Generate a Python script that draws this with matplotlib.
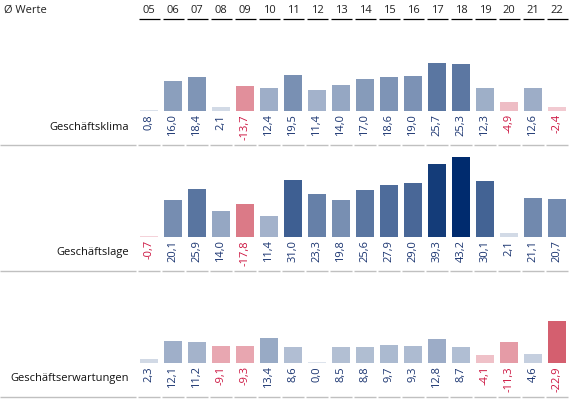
import numpy as np
import matplotlib
matplotlib.use('Agg')
import matplotlib.pyplot as plt
from matplotlib.colors import to_rgb

# === Data ===
years = ['05', '06', '07', '08', '09', '10', '11', '12', '13', '14', '15', '16', '17', '18', '19', '20', '21', '22']
rows = ['Geschäftsklima', 'Geschäftslage', 'Geschäftserwartungen']
klima = [0.8, 16.0, 18.4, 2.1, -13.7, 12.4, 19.5, 11.4, 14.0, 17.0, 18.6, 19.0, 25.7, 25.3, 12.3, -4.9, 12.6, -2.4]
lage = [-0.7, 20.1, 25.9, 14.0, -17.8, 11.4, 31.0, 23.3, 19.8, 25.6, 27.9, 29.0, 39.3, 43.2, 30.1, 2.1, 21.1, 20.7]
erwartungen = [2.3, 12.1, 11.2, -9.1, -9.3, 13.4, 8.6, 0.0, 8.5, 8.8, 9.7, 9.3, 12.8, 8.7, -4.1, -11.3, 4.6, -22.9]
series = [klima, lage, erwartungen]

# === Style ===
plt.rcParams['font.family'] = ['Open Sans', 'DejaVu Sans']
fs = 8
W, H = 570, 399
s = 1.853          # px per unit
pitch = 24         # px per column
x0 = 149           # px centre of first column
row_pitch = 126
base0 = 111

blue_lo, blue_hi = np.array(to_rgb('#dde3ec')), np.array(to_rgb('#002b6e'))
red_lo, red_hi = np.array(to_rgb('#f5d6dc')), np.array(to_rgb('#d45f6f'))
blue_txt, red_txt = '#1a3470', '#cc1440'

all_vals = np.array(series)
pos_max = all_vals.max()
neg_max = -all_vals.min()


def bar_color(v):
    if v >= 0:
        t = v / pos_max
        return blue_lo + (blue_hi - blue_lo) * t
    t = -v / neg_max
    return red_lo + (red_hi - red_lo) * t


fig = plt.figure(figsize=(W / 100, H / 100), dpi=100)
x = np.arange(len(years))
xlim = (-x0 / pitch, (W - x0) / pitch)

# header
hax = fig.add_axes([0, 1 - 20 / H, 1, 20 / H])
hax.set_xlim(*xlim)
hax.set_ylim(20, 0)
hax.axis('off')
hax.text(4 / pitch + xlim[0], 10.5, 'Ø Werte', ha='left', va='center', fontsize=fs, color='#222222')
for i, y in enumerate(years):
    hax.text(i, 10.5, y, ha='center', va='center', fontsize=fs, color='#222222')
hax.hlines([18.7] * len(years), x - 10.5 / pitch, x + 10.5 / pitch, color='black', lw=0.9, clip_on=False)

for k, (name, vals) in enumerate(zip(rows, series)):
    yb = base0 + row_pitch * k
    top_px, bot_px = yb - 92, yb + 34
    ax = fig.add_axes([0, 1 - bot_px / H, 1, (bot_px - top_px) / H])
    ax.set_xlim(*xlim)
    ax.set_ylim(-34 / s, 92 / s)
    ax.axis('off')

    vals = np.array(vals)
    heights = np.maximum(np.abs(vals), 0.6)
    ax.bar(x, heights, width=18 / pitch, color=[bar_color(v) for v in vals])

    for i, v in enumerate(vals):
        lab = f'{v:.1f}'.replace('.', ',')
        ax.annotate(lab, (i, 0), xytext=(0, -2.2), textcoords='offset points',
                    rotation=90, ha='center', va='top', fontsize=fs,
                    color=blue_txt if v >= 0 else red_txt)

    ax.text((129 - x0) / pitch, -16 / s, name, ha='right', va='center', fontsize=fs, color='#111111')

    # separator line
    ysep = -33.5 / s
    ax.hlines(ysep, xlim[0], (136 - x0) / pitch, color='#c0c0c0', lw=1.0, clip_on=False)
    ax.hlines([ysep] * len(years), x - 11 / pitch, x + 11 / pitch, color='#c0c0c0', lw=1.0, clip_on=False)

fig.savefig('out.png', dpi=100)
